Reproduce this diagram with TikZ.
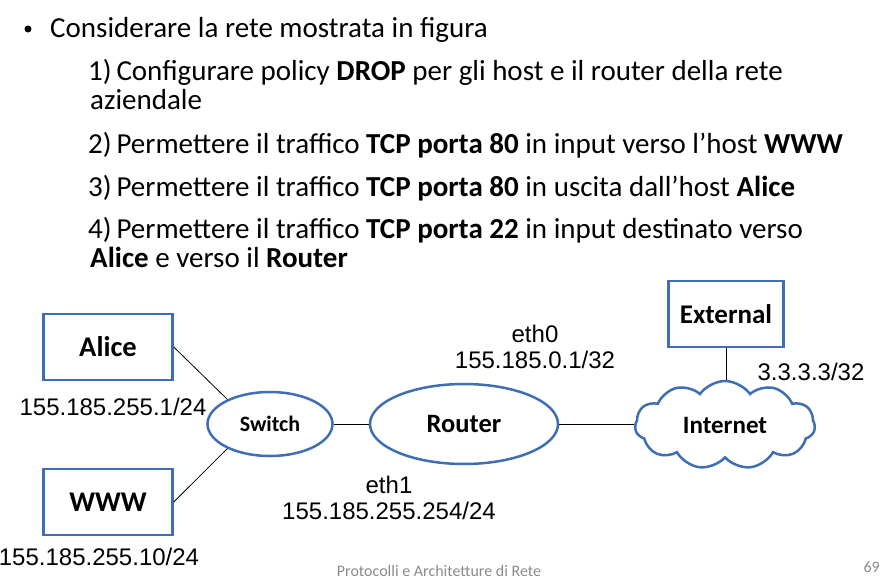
\documentclass[tikz,border=0pt]{standalone}
\usepackage{fontspec}
\setmainfont{Carlito}
\newfontfamily\arialfont{Liberation Sans}
\usetikzlibrary{shapes.geometric, shapes.symbols}
\definecolor{netblue}{HTML}{3F6EB4}
\definecolor{footgray}{HTML}{8A8A8A}
\tikzstyle{hostbox} = [rectangle, draw=netblue, line width=2.5pt, fill=white,
                 minimum width=129pt, minimum height=66pt,
                 font=\bfseries\fontsize{28.5}{32}\selectfont]
\tikzstyle{netnode} = [ellipse, draw=netblue, line width=2.5pt, fill=white,
                 inner sep=0pt, font=\bfseries]
\tikzstyle{link} = [draw, line width=0.8pt]
\tikzset{
	addr/.style={font=\arialfont\fontsize{24}{26}\selectfont, inner sep=1pt, align=center},
	listline/.style={anchor=base west, inner sep=0pt, font=\fontsize{29}{33}\selectfont},
}

\begin{document}
\begin{tikzpicture}[x=1pt, y=-1pt]
\useasboundingbox (0,0) rectangle (887,579);

    	%text
\node [circle, fill, inner sep=0pt, minimum size=7pt] at (28,29) (dot) {};
\node [listline] at (50,37) (intro) {Considerare la rete mostrata in figura};
\node [listline] at (88,80) (item1) {1)\,Configurare policy \textbf{DROP} per gli host e il router della rete};
\node [listline] at (90,109) (item1b) {aziendale};
\node [listline] at (88,153) (item2) {2)\,Permettere il traffico \textbf{TCP porta 80} in input verso l’host \textbf{WWW}};
\node [listline] at (88,196) (item3) {3)\,Permettere il traffico \textbf{TCP porta 80} in uscita dall’host \textbf{Alice}};
\node [listline] at (88,238) (item4) {4)\,Permettere il traffico \textbf{TCP porta 22} in input destinato verso};
\node [listline] at (90,267) (item4b) {\textbf{Alice} e verso il \textbf{Router}};

    	%network
\node [hostbox] at (108,347) (alice) {Alice};
\node [hostbox] at (108,502) (www) {WWW};
\node [hostbox, minimum width=115pt, font=\bfseries\fontsize{27}{30}\selectfont] at (726,314) (external) {External};
\node [netnode, minimum width=125pt, minimum height=64pt,
       font=\bfseries\fontsize{22}{26}\selectfont] at (270,424) (switch) {Switch};
\node [netnode, minimum width=188pt, minimum height=80pt,
       font=\bfseries\fontsize{26.5}{30}\selectfont] at (464,424) (router) {Router};
\node [cloud, draw=netblue, line width=2.5pt, cloud puffs=11, cloud puff arc=110,
       aspect=2.1, minimum width=180pt, minimum height=88pt, inner sep=0pt,
       font=\bfseries\fontsize{25}{28}\selectfont] at (725,425) (internet) {Internet};

\path [link] (alice.east) -- (switch.150);
\path [link] (www.east) -- (switch.210);
\path [link] (switch.east) -- (router.west);
\path [link] (router.east) -- (router.east -| internet.west);
\path [link] (external.south) -- (internet.north -| external.south);

\node [addr] at (535,347) (eth0) {eth0\\155.185.0.1/32};
\node [addr, fill=white, inner ysep=4pt] at (811,372) (extaddr) {3.3.3.3/32};
\node [addr] at (113,407) (aliceaddr) {155.185.255.1/24};
\node [addr] at (389,498) (eth1) {eth1\\155.185.255.254/24};
\node [addr] at (99,557) (wwwaddr) {155.185.255.10/24};

    	%footer
\node [font=\fontsize{16}{18}\selectfont, text=footgray] at (439,571) (footer) {Protocolli e Architetture di Rete};
\node [font=\fontsize{16}{18}\selectfont, text=footgray, anchor=west] at (860,567) (page) {69};

\end{tikzpicture}
\end{document}
